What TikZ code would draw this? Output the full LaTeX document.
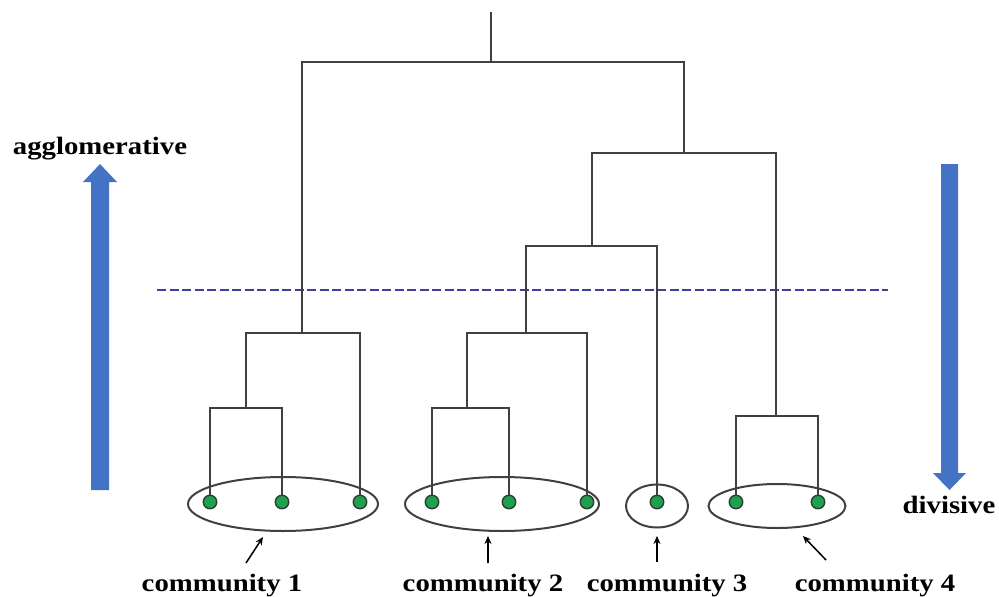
\documentclass[tikz,border=0pt]{standalone}
\usepackage{fontspec}
\setmainfont{Liberation Serif}
\usetikzlibrary{shapes.geometric,arrows.meta}
\definecolor{linegray}{HTML}{404040}
\definecolor{leafgreen}{HTML}{1FA050}
\definecolor{leafedge}{HTML}{2A3F30}
\definecolor{flowblue}{HTML}{4472C4}
\definecolor{cutblue}{HTML}{3F3F9F}
\begin{document}
\begin{tikzpicture}[x=1pt,y=-1pt,
  tree/.style={draw=linegray,line width=2pt},
  leaf/.style={circle,fill=leafgreen,draw=leafedge,line width=1.4pt,minimum size=13.5pt,inner sep=0pt},
  group/.style={ellipse,draw=linegray,line width=2pt,inner sep=0pt},
  lbl/.style={font=\fontsize{25}{28}\selectfont\bfseries,anchor=base,inner sep=0pt},
  pointer/.style={-{Stealth[length=8pt,width=7pt]},line width=1.5pt,black},
  flow/.style={fill=flowblue,draw=none}]
\useasboundingbox (0,0) rectangle (999,597);

% blue direction arrows
\fill[flow] (91,490) -- (91,182) -- (83,182) -- (100,164) -- (117,182) -- (109,182) -- (109,490) -- cycle;
\fill[flow] (941,164) -- (941,473) -- (933,473) -- (949.5,490) -- (966,473) -- (958,473) -- (958,164) -- cycle;

% cut level
\coordinate (cutL) at (157,290);
\coordinate (cutR) at (888,290);
\draw[cutblue,line width=2.5pt,dash pattern=on 9pt off 3.5pt] (cutL) -- (cutR);

% leaves
\foreach \n/\x in {1/210,2/282,3/360,4/432,5/509,6/587,7/657,8/736,9/818}
  \node[leaf] (l\n) at (\x,502) {};

% merge points
\coordinate (a1) at (246,408);
\coordinate (a2) at (302,333);
\coordinate (b1) at (467,408);
\coordinate (b2) at (526,333);
\coordinate (c1) at (592,246);
\coordinate (d1) at (776,416);
\coordinate (c2) at (684,153);
\coordinate (root) at (491,62);
\coordinate (top) at (491,12);

% dendrogram
\draw[tree] (l1) |- (a1) -| (l2);
\draw[tree] (a1) |- (a2) -| (l3);
\draw[tree] (l4) |- (b1) -| (l5);
\draw[tree] (b1) |- (b2) -| (l6);
\draw[tree] (b2) |- (c1) -| (l7);
\draw[tree] (l8) |- (d1) -| (l9);
\draw[tree] (c1) |- (c2) -| (d1);
\draw[tree] (a2) |- (root) -| (c2);
\draw[tree] (root) -- (top);

% communities
\node[group,minimum width=190pt,minimum height=54pt] (e1) at (283,504) {};
\node[group,minimum width=194pt,minimum height=54pt] (e2) at (502,504) {};
\node[group,minimum width=62pt,minimum height=43pt] (e3) at (657,506) {};
\node[group,minimum width=137pt,minimum height=44pt] (e4) at (777,506) {};

% labels
\node[lbl] (t1) at (222,591) {\scalebox{1.15}[1]{community 1}};
\node[lbl] (t2) at (483,591) {\scalebox{1.15}[1]{community 2}};
\node[lbl] (t3) at (667,591) {\scalebox{1.15}[1]{community 3}};
\node[lbl] (t4) at (875,591) {\scalebox{1.15}[1]{community 4}};
\node[lbl] (ag) at (100,154) {\scalebox{1.15}[1]{agglomerative}};
\node[lbl] (dv) at (949,513) {\scalebox{1.15}[1]{divisive}};

% pointers from labels to communities
\coordinate (p1s) at (246,563); \coordinate (p1e) at (263,537);
\coordinate (p2s) at (488,563); \coordinate (p2e) at (488,536);
\coordinate (p3s) at (657,562); \coordinate (p3e) at (657,536);
\coordinate (p4s) at (826,560); \coordinate (p4e) at (803,536);
\draw[pointer] (p1s) -- (p1e);
\draw[pointer] (p2s) -- (p2e);
\draw[pointer] (p3s) -- (p3e);
\draw[pointer] (p4s) -- (p4e);
\end{tikzpicture}
\end{document}
